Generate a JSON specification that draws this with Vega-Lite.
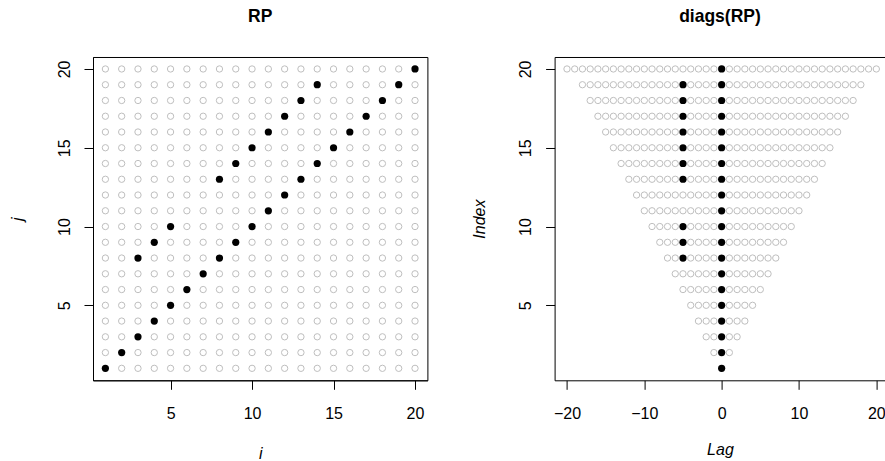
{
"$schema": "https://vega.github.io/schema/vega-lite/v6.json",
"background": "white",
"padding": {"left": 9, "top": 8, "right": 0, "bottom": 0},
"spacing": 126.6,
"bounds": "flush",
"config": {
 "view": {"stroke": "black", "strokeWidth": 1},
 "axis": {"grid": false, "labelOverlap": false, "labelFlush": false, "tickSize": 9, "tickColor": "black", "domainColor": "black", "tickWidth": 1, "domainWidth": 1, "labelFont": "Liberation Sans", "labelFontSize": 16, "labelColor": "black", "titleFont": "Liberation Sans", "titleFontSize": 16, "titleFontStyle": "italic", "titleFontWeight": "normal", "titleColor": "black"},
 "title": {"font": "Liberation Sans", "fontSize": 17.5, "fontWeight": "bold", "color": "black", "anchor": "middle"}
},
"datasets": {
"rp": [
{"i":1,"j":1,"r":1},{"i":2,"j":1,"r":0},{"i":3,"j":1,"r":0},{"i":4,"j":1,"r":0},{"i":5,"j":1,"r":0},{"i":6,"j":1,"r":0},{"i":7,"j":1,"r":0},{"i":8,"j":1,"r":0},{"i":9,"j":1,"r":0},{"i":10,"j":1,"r":0},{"i":11,"j":1,"r":0},{"i":12,"j":1,"r":0},{"i":13,"j":1,"r":0},{"i":14,"j":1,"r":0},{"i":15,"j":1,"r":0},{"i":16,"j":1,"r":0},{"i":17,"j":1,"r":0},{"i":18,"j":1,"r":0},{"i":19,"j":1,"r":0},{"i":20,"j":1,"r":0},
{"i":1,"j":2,"r":0},{"i":2,"j":2,"r":1},{"i":3,"j":2,"r":0},{"i":4,"j":2,"r":0},{"i":5,"j":2,"r":0},{"i":6,"j":2,"r":0},{"i":7,"j":2,"r":0},{"i":8,"j":2,"r":0},{"i":9,"j":2,"r":0},{"i":10,"j":2,"r":0},{"i":11,"j":2,"r":0},{"i":12,"j":2,"r":0},{"i":13,"j":2,"r":0},{"i":14,"j":2,"r":0},{"i":15,"j":2,"r":0},{"i":16,"j":2,"r":0},{"i":17,"j":2,"r":0},{"i":18,"j":2,"r":0},{"i":19,"j":2,"r":0},{"i":20,"j":2,"r":0},
{"i":1,"j":3,"r":0},{"i":2,"j":3,"r":0},{"i":3,"j":3,"r":1},{"i":4,"j":3,"r":0},{"i":5,"j":3,"r":0},{"i":6,"j":3,"r":0},{"i":7,"j":3,"r":0},{"i":8,"j":3,"r":0},{"i":9,"j":3,"r":0},{"i":10,"j":3,"r":0},{"i":11,"j":3,"r":0},{"i":12,"j":3,"r":0},{"i":13,"j":3,"r":0},{"i":14,"j":3,"r":0},{"i":15,"j":3,"r":0},{"i":16,"j":3,"r":0},{"i":17,"j":3,"r":0},{"i":18,"j":3,"r":0},{"i":19,"j":3,"r":0},{"i":20,"j":3,"r":0},
{"i":1,"j":4,"r":0},{"i":2,"j":4,"r":0},{"i":3,"j":4,"r":0},{"i":4,"j":4,"r":1},{"i":5,"j":4,"r":0},{"i":6,"j":4,"r":0},{"i":7,"j":4,"r":0},{"i":8,"j":4,"r":0},{"i":9,"j":4,"r":0},{"i":10,"j":4,"r":0},{"i":11,"j":4,"r":0},{"i":12,"j":4,"r":0},{"i":13,"j":4,"r":0},{"i":14,"j":4,"r":0},{"i":15,"j":4,"r":0},{"i":16,"j":4,"r":0},{"i":17,"j":4,"r":0},{"i":18,"j":4,"r":0},{"i":19,"j":4,"r":0},{"i":20,"j":4,"r":0},
{"i":1,"j":5,"r":0},{"i":2,"j":5,"r":0},{"i":3,"j":5,"r":0},{"i":4,"j":5,"r":0},{"i":5,"j":5,"r":1},{"i":6,"j":5,"r":0},{"i":7,"j":5,"r":0},{"i":8,"j":5,"r":0},{"i":9,"j":5,"r":0},{"i":10,"j":5,"r":0},{"i":11,"j":5,"r":0},{"i":12,"j":5,"r":0},{"i":13,"j":5,"r":0},{"i":14,"j":5,"r":0},{"i":15,"j":5,"r":0},{"i":16,"j":5,"r":0},{"i":17,"j":5,"r":0},{"i":18,"j":5,"r":0},{"i":19,"j":5,"r":0},{"i":20,"j":5,"r":0},
{"i":1,"j":6,"r":0},{"i":2,"j":6,"r":0},{"i":3,"j":6,"r":0},{"i":4,"j":6,"r":0},{"i":5,"j":6,"r":0},{"i":6,"j":6,"r":1},{"i":7,"j":6,"r":0},{"i":8,"j":6,"r":0},{"i":9,"j":6,"r":0},{"i":10,"j":6,"r":0},{"i":11,"j":6,"r":0},{"i":12,"j":6,"r":0},{"i":13,"j":6,"r":0},{"i":14,"j":6,"r":0},{"i":15,"j":6,"r":0},{"i":16,"j":6,"r":0},{"i":17,"j":6,"r":0},{"i":18,"j":6,"r":0},{"i":19,"j":6,"r":0},{"i":20,"j":6,"r":0},
{"i":1,"j":7,"r":0},{"i":2,"j":7,"r":0},{"i":3,"j":7,"r":0},{"i":4,"j":7,"r":0},{"i":5,"j":7,"r":0},{"i":6,"j":7,"r":0},{"i":7,"j":7,"r":1},{"i":8,"j":7,"r":0},{"i":9,"j":7,"r":0},{"i":10,"j":7,"r":0},{"i":11,"j":7,"r":0},{"i":12,"j":7,"r":0},{"i":13,"j":7,"r":0},{"i":14,"j":7,"r":0},{"i":15,"j":7,"r":0},{"i":16,"j":7,"r":0},{"i":17,"j":7,"r":0},{"i":18,"j":7,"r":0},{"i":19,"j":7,"r":0},{"i":20,"j":7,"r":0},
{"i":1,"j":8,"r":0},{"i":2,"j":8,"r":0},{"i":3,"j":8,"r":1},{"i":4,"j":8,"r":0},{"i":5,"j":8,"r":0},{"i":6,"j":8,"r":0},{"i":7,"j":8,"r":0},{"i":8,"j":8,"r":1},{"i":9,"j":8,"r":0},{"i":10,"j":8,"r":0},{"i":11,"j":8,"r":0},{"i":12,"j":8,"r":0},{"i":13,"j":8,"r":0},{"i":14,"j":8,"r":0},{"i":15,"j":8,"r":0},{"i":16,"j":8,"r":0},{"i":17,"j":8,"r":0},{"i":18,"j":8,"r":0},{"i":19,"j":8,"r":0},{"i":20,"j":8,"r":0},
{"i":1,"j":9,"r":0},{"i":2,"j":9,"r":0},{"i":3,"j":9,"r":0},{"i":4,"j":9,"r":1},{"i":5,"j":9,"r":0},{"i":6,"j":9,"r":0},{"i":7,"j":9,"r":0},{"i":8,"j":9,"r":0},{"i":9,"j":9,"r":1},{"i":10,"j":9,"r":0},{"i":11,"j":9,"r":0},{"i":12,"j":9,"r":0},{"i":13,"j":9,"r":0},{"i":14,"j":9,"r":0},{"i":15,"j":9,"r":0},{"i":16,"j":9,"r":0},{"i":17,"j":9,"r":0},{"i":18,"j":9,"r":0},{"i":19,"j":9,"r":0},{"i":20,"j":9,"r":0},
{"i":1,"j":10,"r":0},{"i":2,"j":10,"r":0},{"i":3,"j":10,"r":0},{"i":4,"j":10,"r":0},{"i":5,"j":10,"r":1},{"i":6,"j":10,"r":0},{"i":7,"j":10,"r":0},{"i":8,"j":10,"r":0},{"i":9,"j":10,"r":0},{"i":10,"j":10,"r":1},{"i":11,"j":10,"r":0},{"i":12,"j":10,"r":0},{"i":13,"j":10,"r":0},{"i":14,"j":10,"r":0},{"i":15,"j":10,"r":0},{"i":16,"j":10,"r":0},{"i":17,"j":10,"r":0},{"i":18,"j":10,"r":0},{"i":19,"j":10,"r":0},{"i":20,"j":10,"r":0},
{"i":1,"j":11,"r":0},{"i":2,"j":11,"r":0},{"i":3,"j":11,"r":0},{"i":4,"j":11,"r":0},{"i":5,"j":11,"r":0},{"i":6,"j":11,"r":0},{"i":7,"j":11,"r":0},{"i":8,"j":11,"r":0},{"i":9,"j":11,"r":0},{"i":10,"j":11,"r":0},{"i":11,"j":11,"r":1},{"i":12,"j":11,"r":0},{"i":13,"j":11,"r":0},{"i":14,"j":11,"r":0},{"i":15,"j":11,"r":0},{"i":16,"j":11,"r":0},{"i":17,"j":11,"r":0},{"i":18,"j":11,"r":0},{"i":19,"j":11,"r":0},{"i":20,"j":11,"r":0},
{"i":1,"j":12,"r":0},{"i":2,"j":12,"r":0},{"i":3,"j":12,"r":0},{"i":4,"j":12,"r":0},{"i":5,"j":12,"r":0},{"i":6,"j":12,"r":0},{"i":7,"j":12,"r":0},{"i":8,"j":12,"r":0},{"i":9,"j":12,"r":0},{"i":10,"j":12,"r":0},{"i":11,"j":12,"r":0},{"i":12,"j":12,"r":1},{"i":13,"j":12,"r":0},{"i":14,"j":12,"r":0},{"i":15,"j":12,"r":0},{"i":16,"j":12,"r":0},{"i":17,"j":12,"r":0},{"i":18,"j":12,"r":0},{"i":19,"j":12,"r":0},{"i":20,"j":12,"r":0},
{"i":1,"j":13,"r":0},{"i":2,"j":13,"r":0},{"i":3,"j":13,"r":0},{"i":4,"j":13,"r":0},{"i":5,"j":13,"r":0},{"i":6,"j":13,"r":0},{"i":7,"j":13,"r":0},{"i":8,"j":13,"r":1},{"i":9,"j":13,"r":0},{"i":10,"j":13,"r":0},{"i":11,"j":13,"r":0},{"i":12,"j":13,"r":0},{"i":13,"j":13,"r":1},{"i":14,"j":13,"r":0},{"i":15,"j":13,"r":0},{"i":16,"j":13,"r":0},{"i":17,"j":13,"r":0},{"i":18,"j":13,"r":0},{"i":19,"j":13,"r":0},{"i":20,"j":13,"r":0},
{"i":1,"j":14,"r":0},{"i":2,"j":14,"r":0},{"i":3,"j":14,"r":0},{"i":4,"j":14,"r":0},{"i":5,"j":14,"r":0},{"i":6,"j":14,"r":0},{"i":7,"j":14,"r":0},{"i":8,"j":14,"r":0},{"i":9,"j":14,"r":1},{"i":10,"j":14,"r":0},{"i":11,"j":14,"r":0},{"i":12,"j":14,"r":0},{"i":13,"j":14,"r":0},{"i":14,"j":14,"r":1},{"i":15,"j":14,"r":0},{"i":16,"j":14,"r":0},{"i":17,"j":14,"r":0},{"i":18,"j":14,"r":0},{"i":19,"j":14,"r":0},{"i":20,"j":14,"r":0},
{"i":1,"j":15,"r":0},{"i":2,"j":15,"r":0},{"i":3,"j":15,"r":0},{"i":4,"j":15,"r":0},{"i":5,"j":15,"r":0},{"i":6,"j":15,"r":0},{"i":7,"j":15,"r":0},{"i":8,"j":15,"r":0},{"i":9,"j":15,"r":0},{"i":10,"j":15,"r":1},{"i":11,"j":15,"r":0},{"i":12,"j":15,"r":0},{"i":13,"j":15,"r":0},{"i":14,"j":15,"r":0},{"i":15,"j":15,"r":1},{"i":16,"j":15,"r":0},{"i":17,"j":15,"r":0},{"i":18,"j":15,"r":0},{"i":19,"j":15,"r":0},{"i":20,"j":15,"r":0},
{"i":1,"j":16,"r":0},{"i":2,"j":16,"r":0},{"i":3,"j":16,"r":0},{"i":4,"j":16,"r":0},{"i":5,"j":16,"r":0},{"i":6,"j":16,"r":0},{"i":7,"j":16,"r":0},{"i":8,"j":16,"r":0},{"i":9,"j":16,"r":0},{"i":10,"j":16,"r":0},{"i":11,"j":16,"r":1},{"i":12,"j":16,"r":0},{"i":13,"j":16,"r":0},{"i":14,"j":16,"r":0},{"i":15,"j":16,"r":0},{"i":16,"j":16,"r":1},{"i":17,"j":16,"r":0},{"i":18,"j":16,"r":0},{"i":19,"j":16,"r":0},{"i":20,"j":16,"r":0},
{"i":1,"j":17,"r":0},{"i":2,"j":17,"r":0},{"i":3,"j":17,"r":0},{"i":4,"j":17,"r":0},{"i":5,"j":17,"r":0},{"i":6,"j":17,"r":0},{"i":7,"j":17,"r":0},{"i":8,"j":17,"r":0},{"i":9,"j":17,"r":0},{"i":10,"j":17,"r":0},{"i":11,"j":17,"r":0},{"i":12,"j":17,"r":1},{"i":13,"j":17,"r":0},{"i":14,"j":17,"r":0},{"i":15,"j":17,"r":0},{"i":16,"j":17,"r":0},{"i":17,"j":17,"r":1},{"i":18,"j":17,"r":0},{"i":19,"j":17,"r":0},{"i":20,"j":17,"r":0},
{"i":1,"j":18,"r":0},{"i":2,"j":18,"r":0},{"i":3,"j":18,"r":0},{"i":4,"j":18,"r":0},{"i":5,"j":18,"r":0},{"i":6,"j":18,"r":0},{"i":7,"j":18,"r":0},{"i":8,"j":18,"r":0},{"i":9,"j":18,"r":0},{"i":10,"j":18,"r":0},{"i":11,"j":18,"r":0},{"i":12,"j":18,"r":0},{"i":13,"j":18,"r":1},{"i":14,"j":18,"r":0},{"i":15,"j":18,"r":0},{"i":16,"j":18,"r":0},{"i":17,"j":18,"r":0},{"i":18,"j":18,"r":1},{"i":19,"j":18,"r":0},{"i":20,"j":18,"r":0},
{"i":1,"j":19,"r":0},{"i":2,"j":19,"r":0},{"i":3,"j":19,"r":0},{"i":4,"j":19,"r":0},{"i":5,"j":19,"r":0},{"i":6,"j":19,"r":0},{"i":7,"j":19,"r":0},{"i":8,"j":19,"r":0},{"i":9,"j":19,"r":0},{"i":10,"j":19,"r":0},{"i":11,"j":19,"r":0},{"i":12,"j":19,"r":0},{"i":13,"j":19,"r":0},{"i":14,"j":19,"r":1},{"i":15,"j":19,"r":0},{"i":16,"j":19,"r":0},{"i":17,"j":19,"r":0},{"i":18,"j":19,"r":0},{"i":19,"j":19,"r":1},{"i":20,"j":19,"r":0},
{"i":1,"j":20,"r":0},{"i":2,"j":20,"r":0},{"i":3,"j":20,"r":0},{"i":4,"j":20,"r":0},{"i":5,"j":20,"r":0},{"i":6,"j":20,"r":0},{"i":7,"j":20,"r":0},{"i":8,"j":20,"r":0},{"i":9,"j":20,"r":0},{"i":10,"j":20,"r":0},{"i":11,"j":20,"r":0},{"i":12,"j":20,"r":0},{"i":13,"j":20,"r":0},{"i":14,"j":20,"r":0},{"i":15,"j":20,"r":0},{"i":16,"j":20,"r":0},{"i":17,"j":20,"r":0},{"i":18,"j":20,"r":0},{"i":19,"j":20,"r":0},{"i":20,"j":20,"r":1}
],
"dg": [
{"lag":0,"idx":1,"r":1},
{"lag":-1,"idx":2,"r":0},{"lag":0,"idx":2,"r":1},{"lag":1,"idx":2,"r":0},
{"lag":-2,"idx":3,"r":0},{"lag":-1,"idx":3,"r":0},{"lag":0,"idx":3,"r":1},{"lag":1,"idx":3,"r":0},{"lag":2,"idx":3,"r":0},
{"lag":-3,"idx":4,"r":0},{"lag":-2,"idx":4,"r":0},{"lag":-1,"idx":4,"r":0},{"lag":0,"idx":4,"r":1},{"lag":1,"idx":4,"r":0},{"lag":2,"idx":4,"r":0},{"lag":3,"idx":4,"r":0},
{"lag":-4,"idx":5,"r":0},{"lag":-3,"idx":5,"r":0},{"lag":-2,"idx":5,"r":0},{"lag":-1,"idx":5,"r":0},{"lag":0,"idx":5,"r":1},{"lag":1,"idx":5,"r":0},{"lag":2,"idx":5,"r":0},{"lag":3,"idx":5,"r":0},{"lag":4,"idx":5,"r":0},
{"lag":-5,"idx":6,"r":0},{"lag":-4,"idx":6,"r":0},{"lag":-3,"idx":6,"r":0},{"lag":-2,"idx":6,"r":0},{"lag":-1,"idx":6,"r":0},{"lag":0,"idx":6,"r":1},{"lag":1,"idx":6,"r":0},{"lag":2,"idx":6,"r":0},{"lag":3,"idx":6,"r":0},{"lag":4,"idx":6,"r":0},{"lag":5,"idx":6,"r":0},
{"lag":-6,"idx":7,"r":0},{"lag":-5,"idx":7,"r":0},{"lag":-4,"idx":7,"r":0},{"lag":-3,"idx":7,"r":0},{"lag":-2,"idx":7,"r":0},{"lag":-1,"idx":7,"r":0},{"lag":0,"idx":7,"r":1},{"lag":1,"idx":7,"r":0},{"lag":2,"idx":7,"r":0},{"lag":3,"idx":7,"r":0},{"lag":4,"idx":7,"r":0},{"lag":5,"idx":7,"r":0},{"lag":6,"idx":7,"r":0},
{"lag":-7,"idx":8,"r":0},{"lag":-6,"idx":8,"r":0},{"lag":-5,"idx":8,"r":1},{"lag":-4,"idx":8,"r":0},{"lag":-3,"idx":8,"r":0},{"lag":-2,"idx":8,"r":0},{"lag":-1,"idx":8,"r":0},{"lag":0,"idx":8,"r":1},{"lag":1,"idx":8,"r":0},{"lag":2,"idx":8,"r":0},{"lag":3,"idx":8,"r":0},{"lag":4,"idx":8,"r":0},{"lag":5,"idx":8,"r":0},{"lag":6,"idx":8,"r":0},{"lag":7,"idx":8,"r":0},
{"lag":-8,"idx":9,"r":0},{"lag":-7,"idx":9,"r":0},{"lag":-6,"idx":9,"r":0},{"lag":-5,"idx":9,"r":1},{"lag":-4,"idx":9,"r":0},{"lag":-3,"idx":9,"r":0},{"lag":-2,"idx":9,"r":0},{"lag":-1,"idx":9,"r":0},{"lag":0,"idx":9,"r":1},{"lag":1,"idx":9,"r":0},{"lag":2,"idx":9,"r":0},{"lag":3,"idx":9,"r":0},{"lag":4,"idx":9,"r":0},{"lag":5,"idx":9,"r":0},{"lag":6,"idx":9,"r":0},{"lag":7,"idx":9,"r":0},{"lag":8,"idx":9,"r":0},
{"lag":-9,"idx":10,"r":0},{"lag":-8,"idx":10,"r":0},{"lag":-7,"idx":10,"r":0},{"lag":-6,"idx":10,"r":0},{"lag":-5,"idx":10,"r":1},{"lag":-4,"idx":10,"r":0},{"lag":-3,"idx":10,"r":0},{"lag":-2,"idx":10,"r":0},{"lag":-1,"idx":10,"r":0},{"lag":0,"idx":10,"r":1},{"lag":1,"idx":10,"r":0},{"lag":2,"idx":10,"r":0},{"lag":3,"idx":10,"r":0},{"lag":4,"idx":10,"r":0},{"lag":5,"idx":10,"r":0},{"lag":6,"idx":10,"r":0},{"lag":7,"idx":10,"r":0},{"lag":8,"idx":10,"r":0},{"lag":9,"idx":10,"r":0},
{"lag":-10,"idx":11,"r":0},{"lag":-9,"idx":11,"r":0},{"lag":-8,"idx":11,"r":0},{"lag":-7,"idx":11,"r":0},{"lag":-6,"idx":11,"r":0},{"lag":-5,"idx":11,"r":0},{"lag":-4,"idx":11,"r":0},{"lag":-3,"idx":11,"r":0},{"lag":-2,"idx":11,"r":0},{"lag":-1,"idx":11,"r":0},{"lag":0,"idx":11,"r":1},{"lag":1,"idx":11,"r":0},{"lag":2,"idx":11,"r":0},{"lag":3,"idx":11,"r":0},{"lag":4,"idx":11,"r":0},{"lag":5,"idx":11,"r":0},{"lag":6,"idx":11,"r":0},{"lag":7,"idx":11,"r":0},{"lag":8,"idx":11,"r":0},{"lag":9,"idx":11,"r":0},{"lag":10,"idx":11,"r":0},
{"lag":-11,"idx":12,"r":0},{"lag":-10,"idx":12,"r":0},{"lag":-9,"idx":12,"r":0},{"lag":-8,"idx":12,"r":0},{"lag":-7,"idx":12,"r":0},{"lag":-6,"idx":12,"r":0},{"lag":-5,"idx":12,"r":0},{"lag":-4,"idx":12,"r":0},{"lag":-3,"idx":12,"r":0},{"lag":-2,"idx":12,"r":0},{"lag":-1,"idx":12,"r":0},{"lag":0,"idx":12,"r":1},{"lag":1,"idx":12,"r":0},{"lag":2,"idx":12,"r":0},{"lag":3,"idx":12,"r":0},{"lag":4,"idx":12,"r":0},{"lag":5,"idx":12,"r":0},{"lag":6,"idx":12,"r":0},{"lag":7,"idx":12,"r":0},{"lag":8,"idx":12,"r":0},{"lag":9,"idx":12,"r":0},{"lag":10,"idx":12,"r":0},{"lag":11,"idx":12,"r":0},
{"lag":-12,"idx":13,"r":0},{"lag":-11,"idx":13,"r":0},{"lag":-10,"idx":13,"r":0},{"lag":-9,"idx":13,"r":0},{"lag":-8,"idx":13,"r":0},{"lag":-7,"idx":13,"r":0},{"lag":-6,"idx":13,"r":0},{"lag":-5,"idx":13,"r":1},{"lag":-4,"idx":13,"r":0},{"lag":-3,"idx":13,"r":0},{"lag":-2,"idx":13,"r":0},{"lag":-1,"idx":13,"r":0},{"lag":0,"idx":13,"r":1},{"lag":1,"idx":13,"r":0},{"lag":2,"idx":13,"r":0},{"lag":3,"idx":13,"r":0},{"lag":4,"idx":13,"r":0},{"lag":5,"idx":13,"r":0},{"lag":6,"idx":13,"r":0},{"lag":7,"idx":13,"r":0},{"lag":8,"idx":13,"r":0},{"lag":9,"idx":13,"r":0},{"lag":10,"idx":13,"r":0},{"lag":11,"idx":13,"r":0},{"lag":12,"idx":13,"r":0},
{"lag":-13,"idx":14,"r":0},{"lag":-12,"idx":14,"r":0},{"lag":-11,"idx":14,"r":0},{"lag":-10,"idx":14,"r":0},{"lag":-9,"idx":14,"r":0},{"lag":-8,"idx":14,"r":0},{"lag":-7,"idx":14,"r":0},{"lag":-6,"idx":14,"r":0},{"lag":-5,"idx":14,"r":1},{"lag":-4,"idx":14,"r":0},{"lag":-3,"idx":14,"r":0},{"lag":-2,"idx":14,"r":0},{"lag":-1,"idx":14,"r":0},{"lag":0,"idx":14,"r":1},{"lag":1,"idx":14,"r":0},{"lag":2,"idx":14,"r":0},{"lag":3,"idx":14,"r":0},{"lag":4,"idx":14,"r":0},{"lag":5,"idx":14,"r":0},{"lag":6,"idx":14,"r":0},{"lag":7,"idx":14,"r":0},{"lag":8,"idx":14,"r":0},{"lag":9,"idx":14,"r":0},{"lag":10,"idx":14,"r":0},{"lag":11,"idx":14,"r":0},{"lag":12,"idx":14,"r":0},{"lag":13,"idx":14,"r":0},
{"lag":-14,"idx":15,"r":0},{"lag":-13,"idx":15,"r":0},{"lag":-12,"idx":15,"r":0},{"lag":-11,"idx":15,"r":0},{"lag":-10,"idx":15,"r":0},{"lag":-9,"idx":15,"r":0},{"lag":-8,"idx":15,"r":0},{"lag":-7,"idx":15,"r":0},{"lag":-6,"idx":15,"r":0},{"lag":-5,"idx":15,"r":1},{"lag":-4,"idx":15,"r":0},{"lag":-3,"idx":15,"r":0},{"lag":-2,"idx":15,"r":0},{"lag":-1,"idx":15,"r":0},{"lag":0,"idx":15,"r":1},{"lag":1,"idx":15,"r":0},{"lag":2,"idx":15,"r":0},{"lag":3,"idx":15,"r":0},{"lag":4,"idx":15,"r":0},{"lag":5,"idx":15,"r":0},{"lag":6,"idx":15,"r":0},{"lag":7,"idx":15,"r":0},{"lag":8,"idx":15,"r":0},{"lag":9,"idx":15,"r":0},{"lag":10,"idx":15,"r":0},{"lag":11,"idx":15,"r":0},{"lag":12,"idx":15,"r":0},{"lag":13,"idx":15,"r":0},{"lag":14,"idx":15,"r":0},
{"lag":-15,"idx":16,"r":0},{"lag":-14,"idx":16,"r":0},{"lag":-13,"idx":16,"r":0},{"lag":-12,"idx":16,"r":0},{"lag":-11,"idx":16,"r":0},{"lag":-10,"idx":16,"r":0},{"lag":-9,"idx":16,"r":0},{"lag":-8,"idx":16,"r":0},{"lag":-7,"idx":16,"r":0},{"lag":-6,"idx":16,"r":0},{"lag":-5,"idx":16,"r":1},{"lag":-4,"idx":16,"r":0},{"lag":-3,"idx":16,"r":0},{"lag":-2,"idx":16,"r":0},{"lag":-1,"idx":16,"r":0},{"lag":0,"idx":16,"r":1},{"lag":1,"idx":16,"r":0},{"lag":2,"idx":16,"r":0},{"lag":3,"idx":16,"r":0},{"lag":4,"idx":16,"r":0},{"lag":5,"idx":16,"r":0},{"lag":6,"idx":16,"r":0},{"lag":7,"idx":16,"r":0},{"lag":8,"idx":16,"r":0},{"lag":9,"idx":16,"r":0},{"lag":10,"idx":16,"r":0},{"lag":11,"idx":16,"r":0},{"lag":12,"idx":16,"r":0},{"lag":13,"idx":16,"r":0},{"lag":14,"idx":16,"r":0},{"lag":15,"idx":16,"r":0},
{"lag":-16,"idx":17,"r":0},{"lag":-15,"idx":17,"r":0},{"lag":-14,"idx":17,"r":0},{"lag":-13,"idx":17,"r":0},{"lag":-12,"idx":17,"r":0},{"lag":-11,"idx":17,"r":0},{"lag":-10,"idx":17,"r":0},{"lag":-9,"idx":17,"r":0},{"lag":-8,"idx":17,"r":0},{"lag":-7,"idx":17,"r":0},{"lag":-6,"idx":17,"r":0},{"lag":-5,"idx":17,"r":1},{"lag":-4,"idx":17,"r":0},{"lag":-3,"idx":17,"r":0},{"lag":-2,"idx":17,"r":0},{"lag":-1,"idx":17,"r":0},{"lag":0,"idx":17,"r":1},{"lag":1,"idx":17,"r":0},{"lag":2,"idx":17,"r":0},{"lag":3,"idx":17,"r":0},{"lag":4,"idx":17,"r":0},{"lag":5,"idx":17,"r":0},{"lag":6,"idx":17,"r":0},{"lag":7,"idx":17,"r":0},{"lag":8,"idx":17,"r":0},{"lag":9,"idx":17,"r":0},{"lag":10,"idx":17,"r":0},{"lag":11,"idx":17,"r":0},{"lag":12,"idx":17,"r":0},{"lag":13,"idx":17,"r":0},{"lag":14,"idx":17,"r":0},{"lag":15,"idx":17,"r":0},{"lag":16,"idx":17,"r":0},
{"lag":-17,"idx":18,"r":0},{"lag":-16,"idx":18,"r":0},{"lag":-15,"idx":18,"r":0},{"lag":-14,"idx":18,"r":0},{"lag":-13,"idx":18,"r":0},{"lag":-12,"idx":18,"r":0},{"lag":-11,"idx":18,"r":0},{"lag":-10,"idx":18,"r":0},{"lag":-9,"idx":18,"r":0},{"lag":-8,"idx":18,"r":0},{"lag":-7,"idx":18,"r":0},{"lag":-6,"idx":18,"r":0},{"lag":-5,"idx":18,"r":1},{"lag":-4,"idx":18,"r":0},{"lag":-3,"idx":18,"r":0},{"lag":-2,"idx":18,"r":0},{"lag":-1,"idx":18,"r":0},{"lag":0,"idx":18,"r":1},{"lag":1,"idx":18,"r":0},{"lag":2,"idx":18,"r":0},{"lag":3,"idx":18,"r":0},{"lag":4,"idx":18,"r":0},{"lag":5,"idx":18,"r":0},{"lag":6,"idx":18,"r":0},{"lag":7,"idx":18,"r":0},{"lag":8,"idx":18,"r":0},{"lag":9,"idx":18,"r":0},{"lag":10,"idx":18,"r":0},{"lag":11,"idx":18,"r":0},{"lag":12,"idx":18,"r":0},{"lag":13,"idx":18,"r":0},{"lag":14,"idx":18,"r":0},{"lag":15,"idx":18,"r":0},{"lag":16,"idx":18,"r":0},{"lag":17,"idx":18,"r":0},
{"lag":-18,"idx":19,"r":0},{"lag":-17,"idx":19,"r":0},{"lag":-16,"idx":19,"r":0},{"lag":-15,"idx":19,"r":0},{"lag":-14,"idx":19,"r":0},{"lag":-13,"idx":19,"r":0},{"lag":-12,"idx":19,"r":0},{"lag":-11,"idx":19,"r":0},{"lag":-10,"idx":19,"r":0},{"lag":-9,"idx":19,"r":0},{"lag":-8,"idx":19,"r":0},{"lag":-7,"idx":19,"r":0},{"lag":-6,"idx":19,"r":0},{"lag":-5,"idx":19,"r":1},{"lag":-4,"idx":19,"r":0},{"lag":-3,"idx":19,"r":0},{"lag":-2,"idx":19,"r":0},{"lag":-1,"idx":19,"r":0},{"lag":0,"idx":19,"r":1},{"lag":1,"idx":19,"r":0},{"lag":2,"idx":19,"r":0},{"lag":3,"idx":19,"r":0},{"lag":4,"idx":19,"r":0},{"lag":5,"idx":19,"r":0},{"lag":6,"idx":19,"r":0},{"lag":7,"idx":19,"r":0},{"lag":8,"idx":19,"r":0},{"lag":9,"idx":19,"r":0},{"lag":10,"idx":19,"r":0},{"lag":11,"idx":19,"r":0},{"lag":12,"idx":19,"r":0},{"lag":13,"idx":19,"r":0},{"lag":14,"idx":19,"r":0},{"lag":15,"idx":19,"r":0},{"lag":16,"idx":19,"r":0},{"lag":17,"idx":19,"r":0},{"lag":18,"idx":19,"r":0},
{"lag":-20,"idx":20,"r":0},{"lag":-19,"idx":20,"r":0},{"lag":-18,"idx":20,"r":0},{"lag":-17,"idx":20,"r":0},{"lag":-16,"idx":20,"r":0},{"lag":-15,"idx":20,"r":0},{"lag":-14,"idx":20,"r":0},{"lag":-13,"idx":20,"r":0},{"lag":-12,"idx":20,"r":0},{"lag":-11,"idx":20,"r":0},{"lag":-10,"idx":20,"r":0},{"lag":-9,"idx":20,"r":0},{"lag":-8,"idx":20,"r":0},{"lag":-7,"idx":20,"r":0},{"lag":-6,"idx":20,"r":0},{"lag":-5,"idx":20,"r":0},{"lag":-4,"idx":20,"r":0},{"lag":-3,"idx":20,"r":0},{"lag":-2,"idx":20,"r":0},{"lag":-1,"idx":20,"r":0},{"lag":0,"idx":20,"r":1},{"lag":1,"idx":20,"r":0},{"lag":2,"idx":20,"r":0},{"lag":3,"idx":20,"r":0},{"lag":4,"idx":20,"r":0},{"lag":5,"idx":20,"r":0},{"lag":6,"idx":20,"r":0},{"lag":7,"idx":20,"r":0},{"lag":8,"idx":20,"r":0},{"lag":9,"idx":20,"r":0},{"lag":10,"idx":20,"r":0},{"lag":11,"idx":20,"r":0},{"lag":12,"idx":20,"r":0},{"lag":13,"idx":20,"r":0},{"lag":14,"idx":20,"r":0},{"lag":15,"idx":20,"r":0},{"lag":16,"idx":20,"r":0},{"lag":17,"idx":20,"r":0},{"lag":18,"idx":20,"r":0},{"lag":19,"idx":20,"r":0},{"lag":20,"idx":20,"r":0}
]
},
"hconcat": [
{
 "width": 334.4, "height": 323.3,
 "data": {"name": "rp"},
 "title": {"text": "RP", "baseline": "alphabetic", "offset": 17},
 "layer": [
  {"transform": [{"filter": {"field": "r", "equal": 0}}],
   "mark": {"type": "point", "shape": "circle", "filled": false, "color": "#bebebe", "size": 40, "strokeWidth": 1, "opacity": 1},
   "encoding": {
    "x": {"field": "i", "type": "quantitative", "scale": {"domain": [0.24, 20.76], "nice": false, "zero": false},
      "axis": {"values": [5, 10, 15, 20], "title": "i", "titleY": 78, "titleBaseline": "alphabetic", "labelBaseline": "alphabetic", "labelPadding": 29}},
    "y": {"field": "j", "type": "quantitative", "scale": {"domain": [0.24, 20.76], "nice": false, "zero": false},
      "axis": {"values": [5, 10, 15, 20], "title": "j", "titleX": -70.3, "titleAngle": 270, "titleBaseline": "alphabetic", "labelAngle": 270, "labelAlign": "center", "labelBaseline": "alphabetic", "labelPadding": 15}}
   }},
  {"transform": [{"filter": {"field": "r", "equal": 1}}],
   "mark": {"type": "circle", "color": "black", "size": 52, "opacity": 1},
   "encoding": {
    "x": {"field": "i", "type": "quantitative"},
    "y": {"field": "j", "type": "quantitative"}
   }}
 ]
},
{
 "width": 330.7, "height": 323.3,
 "data": {"name": "dg"},
 "view": {"stroke": null},
 "title": {"text": "diags(RP)", "baseline": "alphabetic", "offset": 17},
 "resolve": {"axis": {"x": "independent"}},
 "layer": [
  {"transform": [{"filter": {"field": "r", "equal": 0}}],
   "mark": {"type": "point", "shape": "circle", "filled": false, "color": "#bebebe", "size": 40, "strokeWidth": 1, "opacity": 1},
   "encoding": {
    "x": {"field": "lag", "type": "quantitative", "scale": {"domain": [-21.6, 21.16], "nice": false, "zero": false},
      "axis": {"orient": "bottom", "values": [-20, -10, 0, 10, 20], "title": "Lag", "titleY": 74, "titleBaseline": "alphabetic", "labelBaseline": "alphabetic", "labelPadding": 29}},
    "y": {"field": "idx", "type": "quantitative", "scale": {"domain": [0.24, 20.76], "nice": false, "zero": false},
      "axis": {"values": [5, 10, 15, 20], "title": "Index", "titleX": -70.3, "titleAngle": 270, "titleBaseline": "alphabetic", "labelAngle": 270, "labelAlign": "center", "labelBaseline": "alphabetic", "labelPadding": 15}}
   }},
  {"transform": [{"filter": {"field": "r", "equal": 1}}],
   "mark": {"type": "circle", "color": "black", "size": 52, "opacity": 1},
   "encoding": {
    "x": {"field": "lag", "type": "quantitative", "axis": {"orient": "top", "labels": false, "ticks": false, "title": null, "domain": true}},
    "y": {"field": "idx", "type": "quantitative"}
   }}
 ]
}
]
}
